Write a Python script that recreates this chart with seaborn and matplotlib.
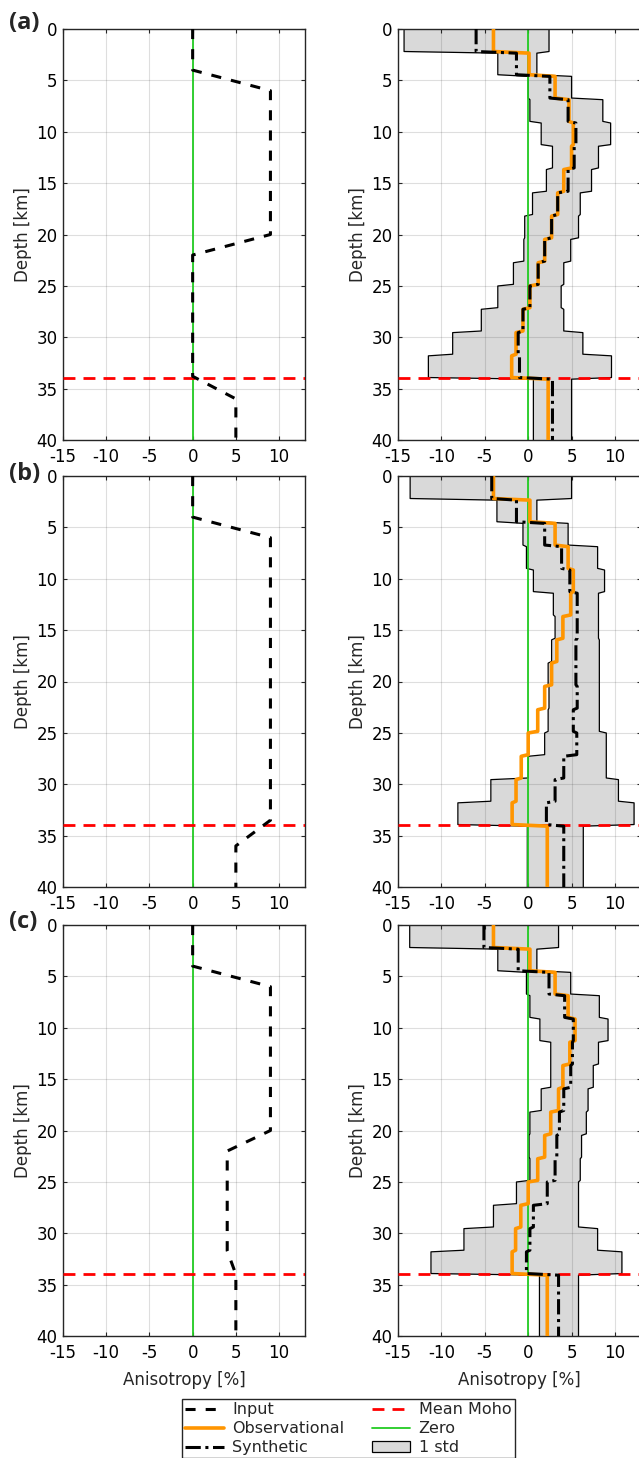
import numpy as np
import pandas as pd
import matplotlib
matplotlib.use("Agg")
import matplotlib.pyplot as plt
from matplotlib.lines import Line2D
from matplotlib.patches import Patch
import seaborn as sns

sns.set_style("ticks")
plt.rcParams["font.family"] = ["DejaVu Sans"]
plt.rcParams["axes.unicode_minus"] = False

# layer boundaries [km]: 15 crustal layers down to the Moho, then the mantle
layer_bounds = [0, 2.27, 4.53, 6.8, 9.07, 11.33, 13.6, 15.87, 18.13,
                20.4, 22.67, 24.93, 27.2, 29.47, 31.73, 34.0, 40.0]
moho_depth = 34.0

# input models: node depths [km] and anisotropy [%]
input_depth_a = [0, 4, 6, 20, 22, 33.8, 36, 40]
input_aniso_a = [0, 0, 9, 9, 0, 0, 5, 5]
input_depth_b = [0, 4, 6, 33.5, 36, 40]
input_aniso_b = [0, 0, 9, 9, 5, 5]
input_depth_c = [0, 4, 6, 20, 22, 31.7, 34, 40]
input_aniso_c = [0, 0, 9, 9, 4, 4, 5, 5]

# recovered profiles, one value per layer (15 crust + mantle)
obs_a = [-4.0, 0.1, 3.1, 4.7, 5.2, 5.0, 4.1, 3.4, 2.7, 1.9, 1.15, 0.2, -0.6, -1.4, -1.9, 2.3]
syn_a = [-6.0, -1.35, 2.5, 4.6, 5.5, 5.3, 4.6, 3.4, 2.7, 1.9, 1.15, 0.2, -0.6, -1.15, -1.0, 2.8]
std_lo_a = [-14.3, -3.5, 0.0, 0.2, 1.5, 2.8, 2.1, 0.5, -0.4, -0.5, -1.7, -3.5, -5.4, -8.7, -11.5, 0.6]
std_hi_a = [2.4, 1.0, 5.0, 8.6, 9.5, 8.1, 7.3, 6.0, 5.8, 4.9, 4.1, 3.8, 4.1, 6.3, 9.6, 5.0]

obs_b = [-4.0, 0.2, 3.1, 4.6, 5.2, 4.9, 4.0, 3.3, 2.7, 1.9, 1.1, 0.0, -0.8, -1.4, -1.85, 2.2]
syn_b = [-4.2, -1.35, 1.9, 3.85, 4.8, 5.65, 5.65, 5.5, 5.5, 5.65, 5.2, 5.6, 4.1, 3.1, 2.1, 4.1]
std_lo_b = [-13.6, -3.6, -0.6, -0.2, 0.6, 2.9, 3.1, 2.7, 2.3, 2.4, 2.3, 1.9, 0.0, -4.3, -8.1, -0.1]
std_hi_b = [5.0, 1.0, 4.6, 8.0, 8.8, 8.1, 8.1, 8.2, 8.2, 8.2, 8.2, 9.0, 9.0, 10.4, 12.2, 6.35]

obs_c = [-4.0, 0.2, 3.1, 4.6, 5.4, 4.8, 4.0, 3.5, 2.6, 1.9, 1.1, 0.0, -0.85, -1.45, -1.85, 2.2]
syn_c = [-5.1, -1.15, 2.4, 4.2, 5.2, 5.1, 4.9, 4.1, 3.6, 3.3, 3.1, 2.2, 0.6, 0.2, -0.2, 3.5]
std_lo_c = [-13.65, -3.5, -0.2, 0.2, 1.35, 2.6, 2.6, 1.5, 0.2, 0.1, 0.2, -1.35, -4.0, -7.4, -11.2, 1.3]
std_hi_c = [3.5, 1.0, 4.9, 8.2, 9.2, 8.1, 7.5, 6.9, 6.7, 6.15, 6.0, 5.8, 5.8, 8.0, 10.8, 5.8]

panel_labels = ["(a)", "(b)", "(c)"]
x_ticks = [-15, -10, -5, 0, 5, 10]
y_ticks = [0, 5, 10, 15, 20, 25, 30, 35, 40]

C_OBS = "#ff9500"
C_ZERO = "#22cc22"
C_MOHO = "#ff0000"
C_FILL = "#d9d9d9"
DASH_INPUT = (0, (3.3, 3.3))
DASH_SYN = (0, (5, 1.5, 1, 1.5))
DASH_MOHO = (0, (4.3, 2.9))


def stair_profile(values, bounds=layer_bounds, eps=0.08):
    """Turn per-layer values into a step profile (depth, value)."""
    depth, val = [], []
    n = len(values)
    for i, v in enumerate(values):
        top = bounds[i] + (eps if i > 0 else 0)
        bot = bounds[i + 1] - (eps if i < n - 1 else 0)
        depth += [top, bot]
        val += [v, v]
    return pd.DataFrame({"depth": depth, "aniso": val})


def style_axes(ax, show_xlabel):
    ax.set_xlim(-15, 13)
    ax.set_ylim(40, 0)
    ax.set_xticks(x_ticks)
    ax.set_yticks(y_ticks)
    ax.grid(True, color="#262626", alpha=0.15, lw=0.8)
    ax.set_axisbelow("line")
    ax.tick_params(direction="in", length=3, width=0.8, top=True, right=True,
                   labelsize=12, pad=4, colors="#262626", labelcolor="black")
    ax.tick_params(axis="x", pad=6)
    for s in ax.spines.values():
        s.set_visible(True)
        s.set_color("#262626")
        s.set_linewidth(1.0)
    ax.set_ylabel("Depth [km]", fontsize=12, labelpad=3)
    if show_xlabel:
        ax.set_xlabel("Anisotropy [%]", fontsize=12, labelpad=6)
    else:
        ax.set_xlabel("")


def zero_and_moho(ax):
    ax.axvline(0, color=C_ZERO, lw=1.3, zorder=1.8)
    ax.axhline(moho_depth, color=C_MOHO, lw=2.0, ls=DASH_MOHO, zorder=3)


fig = plt.figure(figsize=(6.39, 14.58), dpi=100)

inputs = [(input_depth_a, input_aniso_a), (input_depth_b, input_aniso_b), (input_depth_c, input_aniso_c)]
recovered = [(obs_a, syn_a, std_lo_a, std_hi_a),
             (obs_b, syn_b, std_lo_b, std_hi_b),
             (obs_c, syn_c, std_lo_c, std_hi_c)]
bottoms = [1 - 440 / 1458, 1 - 887 / 1458, 1 - 1336 / 1458]
label_y = [23, 474, 922]
height = 411 / 1458

for i in range(3):
    show_x = i == 2
    # left column: input model
    axl = fig.add_axes([63 / 639, bottoms[i], 242 / 639, height])
    zero_and_moho(axl)
    d_in = pd.DataFrame({"depth": inputs[i][0], "aniso": inputs[i][1]})
    sns.lineplot(data=d_in, x="aniso", y="depth", sort=False, estimator=None,
                 color="black", lw=2.2, ls=DASH_INPUT, ax=axl, zorder=4)
    style_axes(axl, show_x)

    # right column: recovered models
    axr = fig.add_axes([398 / 639, bottoms[i], 243 / 639, height])
    obs, syn, lo, hi = recovered[i]
    d_lo = stair_profile(lo)
    d_hi = stair_profile(hi)
    axr.fill_betweenx(d_lo["depth"], d_lo["aniso"], d_hi["aniso"], color=C_FILL, lw=0, zorder=1)
    sns.lineplot(data=d_lo, x="aniso", y="depth", sort=False, estimator=None,
                 color="black", lw=0.9, ax=axr, zorder=1.6)
    sns.lineplot(data=d_hi, x="aniso", y="depth", sort=False, estimator=None,
                 color="black", lw=0.9, ax=axr, zorder=1.6)
    zero_and_moho(axr)
    sns.lineplot(data=stair_profile(obs), x="aniso", y="depth", sort=False, estimator=None,
                 color=C_OBS, lw=2.6, ax=axr, zorder=4)
    sns.lineplot(data=stair_profile(syn), x="aniso", y="depth", sort=False, estimator=None,
                 color="black", lw=2.2, ls=DASH_SYN, ax=axr, zorder=5)
    style_axes(axr, show_x)

    fig.text(9 / 639, 1 - label_y[i] / 1458, panel_labels[i], fontsize=17,
             fontweight="bold", family=["Open Sans", "DejaVu Sans"], ha="left", va="center")

handles = [
    Line2D([], [], color="black", lw=2.2, ls=DASH_INPUT),
    Line2D([], [], color=C_OBS, lw=2.6),
    Line2D([], [], color="black", lw=2.2, ls=DASH_SYN),
    Line2D([], [], color=C_MOHO, lw=2.0, ls=DASH_MOHO),
    Line2D([], [], color=C_ZERO, lw=1.3),
    Patch(facecolor=C_FILL, edgecolor="black", lw=0.9),
]
labels = ["Input", "Observational", "Synthetic", "Mean Moho", "Zero", "1 std"]
fig.legend(handles, labels, ncol=2, loc="upper left", bbox_to_anchor=(182 / 639, 1 - 1399 / 1458),
           borderaxespad=0, frameon=True, fancybox=False, edgecolor="#262626", framealpha=1,
           fontsize=11.5, handlelength=2.4, handletextpad=0.55, columnspacing=1.7,
           labelspacing=0.25, borderpad=0.2)

fig.savefig("out.png", dpi=100)
